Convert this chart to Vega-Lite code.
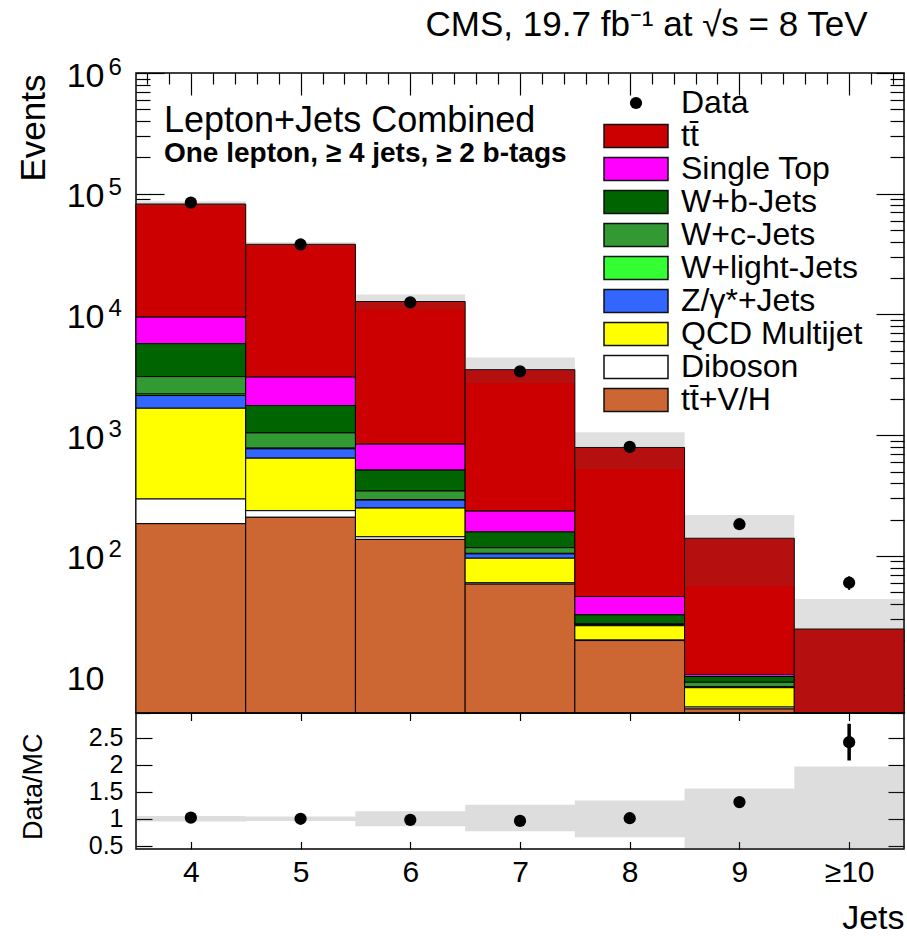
{
  "$schema": "https://vega.github.io/schema/vega-lite/v6.json",
  "background": "white",
  "padding": {"left": 15, "top": 6, "right": 2, "bottom": 2},
  "spacing": 0,
  "bounds": "flush",
  "config": {
    "font": "Liberation Sans",
    "view": {"stroke": "black", "strokeWidth": 1.5},
    "axis": {
      "domain": false, "grid": false, "tickColor": "black", "tickWidth": 1.2,
      "labelColor": "black", "titleColor": "black", "labelFont": "Liberation Sans",
      "titleFont": "Liberation Sans", "titleFontWeight": "normal",
      "labelOverlap": false, "labelBound": false, "labelFlush": false
    }
  },
  "datasets": {
    "mc": [
      {"jets": 4, "process": "tt\u0304", "events": 72700},
      {"jets": 4, "process": "Single Top", "events": 3770},
      {"jets": 4, "process": "W+b-Jets", "events": 2674},
      {"jets": 4, "process": "W+c-Jets", "events": 866},
      {"jets": 4, "process": "W+light-Jets", "events": 60},
      {"jets": 4, "process": "Z/γ*+Jets", "events": 458},
      {"jets": 4, "process": "QCD Multijet", "events": 1376},
      {"jets": 4, "process": "Diboson", "events": 111},
      {"jets": 4, "process": "tt\u0304+V/H", "events": 185},
      {"jets": 5, "process": "tt\u0304", "events": 35070},
      {"jets": 5, "process": "Single Top", "events": 1270},
      {"jets": 5, "process": "W+b-Jets", "events": 715},
      {"jets": 5, "process": "W+c-Jets", "events": 264},
      {"jets": 5, "process": "W+light-Jets", "events": 10},
      {"jets": 5, "process": "Z/γ*+Jets", "events": 126},
      {"jets": 5, "process": "QCD Multijet", "events": 408},
      {"jets": 5, "process": "Diboson", "events": 28},
      {"jets": 5, "process": "tt\u0304+V/H", "events": 209},
      {"jets": 6, "process": "tt\u0304", "events": 11957},
      {"jets": 6, "process": "Single Top", "events": 329},
      {"jets": 6, "process": "W+b-Jets", "events": 169},
      {"jets": 6, "process": "W+c-Jets", "events": 52},
      {"jets": 6, "process": "W+light-Jets", "events": 3},
      {"jets": 6, "process": "Z/γ*+Jets", "events": 41},
      {"jets": 6, "process": "QCD Multijet", "events": 105},
      {"jets": 6, "process": "Diboson", "events": 7},
      {"jets": 6, "process": "tt\u0304+V/H", "events": 137},
      {"jets": 7, "process": "tt\u0304", "events": 3255},
      {"jets": 7, "process": "Single Top", "events": 77},
      {"jets": 7, "process": "W+b-Jets", "events": 41},
      {"jets": 7, "process": "W+c-Jets", "events": 12},
      {"jets": 7, "process": "W+light-Jets", "events": 1},
      {"jets": 7, "process": "Z/γ*+Jets", "events": 8.3},
      {"jets": 7, "process": "QCD Multijet", "events": 35.9},
      {"jets": 7, "process": "Diboson", "events": 1.4},
      {"jets": 7, "process": "tt\u0304+V/H", "events": 58.4},
      {"jets": 8, "process": "tt\u0304", "events": 745},
      {"jets": 8, "process": "Single Top", "events": 13.6},
      {"jets": 8, "process": "W+b-Jets", "events": 5.1},
      {"jets": 8, "process": "W+c-Jets", "events": 0.5},
      {"jets": 8, "process": "W+light-Jets", "events": 0.1},
      {"jets": 8, "process": "Z/γ*+Jets", "events": 0.4},
      {"jets": 8, "process": "QCD Multijet", "events": 6.3},
      {"jets": 8, "process": "Diboson", "events": 0.2},
      {"jets": 8, "process": "tt\u0304+V/H", "events": 19.9},
      {"jets": 9, "process": "tt\u0304", "events": 129.6},
      {"jets": 9, "process": "Single Top", "events": 0.4},
      {"jets": 9, "process": "W+b-Jets", "events": 1.03},
      {"jets": 9, "process": "W+c-Jets", "events": 0.77},
      {"jets": 9, "process": "W+light-Jets", "events": 0.02},
      {"jets": 9, "process": "Z/γ*+Jets", "events": 0.1},
      {"jets": 9, "process": "QCD Multijet", "events": 2.5},
      {"jets": 9, "process": "Diboson", "events": 0.2},
      {"jets": 9, "process": "tt\u0304+V/H", "events": 5.4},
      {"jets": 10, "process": "tt\u0304", "events": 21.25},
      {"jets": 10, "process": "Single Top", "events": 0.3},
      {"jets": 10, "process": "W+b-Jets", "events": 0.3},
      {"jets": 10, "process": "W+c-Jets", "events": 0.2},
      {"jets": 10, "process": "W+light-Jets", "events": 0.01},
      {"jets": 10, "process": "Z/γ*+Jets", "events": 0.05},
      {"jets": 10, "process": "QCD Multijet", "events": 0.6},
      {"jets": 10, "process": "Diboson", "events": 0.1},
      {"jets": 10, "process": "tt\u0304+V/H", "events": 2.0}
    ],
    "bins": [
      {"jets": 4, "data": 84300, "dataLo": 84010, "dataHi": 84590, "mcLo": 78100, "mcHi": 86800, "ratio": 1.02, "ratioLo": 1.01, "ratioHi": 1.03, "bandLo": 0.95, "bandHi": 1.05},
      {"jets": 5, "data": 38000, "dataLo": 37805, "dataHi": 38195, "mcLo": 36600, "mcHi": 39600, "ratio": 1.0, "ratioLo": 0.99, "ratioHi": 1.01, "bandLo": 0.96, "bandHi": 1.04},
      {"jets": 6, "data": 12600, "dataLo": 12488, "dataHi": 12712, "mcLo": 11000, "mcHi": 14600, "ratio": 0.98, "ratioLo": 0.97, "ratioHi": 0.99, "bandLo": 0.86, "bandHi": 1.14},
      {"jets": 7, "data": 3380, "dataLo": 3322, "dataHi": 3438, "mcLo": 2690, "mcHi": 4400, "ratio": 0.96, "ratioLo": 0.94, "ratioHi": 0.98, "bandLo": 0.77, "bandHi": 1.26},
      {"jets": 8, "data": 800, "dataLo": 772, "dataHi": 828, "mcLo": 522, "mcHi": 1060, "ratio": 1.01, "ratioLo": 0.97, "ratioHi": 1.05, "bandLo": 0.66, "bandHi": 1.34},
      {"jets": 9, "data": 183, "dataLo": 169.5, "dataHi": 196.5, "mcLo": 56, "mcHi": 218, "ratio": 1.31, "ratioLo": 1.22, "ratioHi": 1.4, "bandLo": 0.4, "bandHi": 1.56},
      {"jets": 10, "data": 60, "dataLo": 52.3, "dataHi": 67.7, "mcLo": 0.7, "mcHi": 44, "ratio": 2.42, "ratioLo": 2.08, "ratioHi": 2.76, "bandLo": 0.03, "bandHi": 1.97}
    ],
    "notes": [
      {"line": "Lepton+Jets Combined", "kind": "heading", "jets": 3.755, "events": 325000},
      {"line": "One lepton, ≥ 4 jets, ≥ 2 b-tags", "kind": "selection", "jets": 3.755, "events": 183000}
    ]
  },
  "vconcat": [
    {
      "width": 768,
      "height": 640,
      "title": {
        "text": "CMS, 19.7 fb⁻¹ at √s = 8 TeV",
        "anchor": "end", "fontSize": 35, "fontWeight": "normal", "font": "Liberation Sans",
        "color": "black", "baseline": "alphabetic", "offset": -15.5, "dx": -37
      },
      "resolve": {"axis": {"x": "independent", "y": "independent"}},
      "layer": [
        {
          "data": {"name": "mc"},
          "transform": [
            {"calculate": "indexof(['tt\u0304','Single Top','W+b-Jets','W+c-Jets','W+light-Jets','Z/γ*+Jets','QCD Multijet','Diboson','tt\u0304+V/H'], datum.process)", "as": "rank"},
            {"stack": "events", "groupby": ["jets"], "sort": [{"field": "rank", "order": "descending"}], "as": ["lo", "hi"]},
            {"calculate": "max(datum.lo, 1)", "as": "base"},
            {"calculate": "datum.jets - 0.5", "as": "left"},
            {"calculate": "datum.jets + 0.5", "as": "right"}
          ],
          "mark": {"type": "rect", "stroke": "black", "strokeWidth": 1, "opacity": 1},
          "encoding": {
            "x": {
              "field": "left", "type": "quantitative",
              "scale": {"domain": [3.5, 10.5], "nice": false, "zero": false},
              "axis": {
                "orient": "bottom", "title": null, "labels": false, "minExtent": 0, "maxExtent": 0,
                "values": [3.6,3.8,4,4.2,4.4,4.6,4.8,5,5.2,5.4,5.6,5.8,6,6.2,6.4,6.6,6.8,7,7.2,7.4,7.6,7.8,8,8.2,8.4,8.6,8.8,9,9.2,9.4,9.6,9.8,10,10.2,10.4],
                "tickSize": {"condition": {"test": "abs(datum.value - round(datum.value)) < 0.01", "value": -22}, "value": -11}
              }
            },
            "x2": {"field": "right"},
            "y": {
              "field": "hi", "type": "quantitative",
              "scale": {"type": "log", "domain": [5, 1000000], "clamp": true, "nice": false},
              "axis": {
                "orient": "left",
                "values": [5,6,7,8,9,10,20,30,40,50,60,70,80,90,100,200,300,400,500,600,700,800,900,1000,2000,3000,4000,5000,6000,7000,8000,9000,10000,20000,30000,40000,50000,60000,70000,80000,90000,100000,200000,300000,400000,500000,600000,700000,800000,900000,1000000],
                "labelExpr": "abs(log(datum.value)/LN10 - round(log(datum.value)/LN10)) < 0.001 ? '10' : ''",
                "tickSize": {"condition": {"test": "abs(log(datum.value)/LN10 - round(log(datum.value)/LN10)) < 0.001", "value": -28}, "value": -14},
                "labelFontSize": {"condition": {"test": "abs(log(datum.value)/LN10 - round(log(datum.value)/LN10)) < 0.001", "value": 34}, "value": 0},
                "labelPadding": 60, "labelBaseline": "middle", "labelOffset": 3,
                "title": "Events", "titleFontSize": 35, "titleAngle": 270, "titleAlign": "right",
                "titleBaseline": "alphabetic", "titleX": -92, "titleY": 1
              }
            },
            "y2": {"field": "base"},
            "color": {
              "field": "process", "type": "nominal",
              "scale": {
                "domain": ["Data", "tt\u0304", "Single Top", "W+b-Jets", "W+c-Jets", "W+light-Jets", "Z/γ*+Jets", "QCD Multijet", "Diboson", "tt\u0304+V/H"],
                "range": ["#000000", "#cc0000", "#ff00ff", "#006400", "#339933", "#33ff33", "#3366ff", "#ffff00", "#ffffff", "#cc6633"]
              },
              "legend": {
                "title": null, "orient": "none", "legendX": 484, "legendY": 14, "padding": 0,
                "labelFontSize": 32, "labelFont": "Liberation Sans", "labelColor": "black",
                "labelOffset": 29, "rowPadding": 1, "labelLimit": 400,
                "symbolSize": 4096, "symbolType": "M-1,-0.36H1V0.36H-1Z",
                "symbolStrokeColor": "#111111", "symbolStrokeWidth": 1.5, "symbolOpacity": 1,
                "encode": {
                  "symbols": {
                    "update": {
                      "shape": {"signal": "datum.value === 'Data' ? 'circle' : 'M-1,-0.36H1V0.36H-1Z'"},
                      "size": {"signal": "datum.value === 'Data' ? 150 : 4096"},
                      "strokeWidth": {"signal": "datum.value === 'Data' ? 0 : 1.5"}
                    }
                  }
                }
              }
            }
          }
        },
        {
          "data": {"name": "bins"},
          "transform": [
            {"calculate": "datum.jets - 0.5", "as": "left"},
            {"calculate": "datum.jets + 0.5", "as": "right"}
          ],
          "mark": {"type": "rect", "fill": "#555555", "fillOpacity": 0.18},
          "encoding": {
            "x": {
              "field": "left", "type": "quantitative",
              "scale": {"domain": [3.5, 10.5], "nice": false, "zero": false},
              "axis": {
                "orient": "top", "title": null, "labels": false, "minExtent": 0, "maxExtent": 0,
                "values": [3.6,3.8,4,4.2,4.4,4.6,4.8,5,5.2,5.4,5.6,5.8,6,6.2,6.4,6.6,6.8,7,7.2,7.4,7.6,7.8,8,8.2,8.4,8.6,8.8,9,9.2,9.4,9.6,9.8,10,10.2,10.4],
                "tickSize": {"condition": {"test": "abs(datum.value - round(datum.value)) < 0.01", "value": -22}, "value": -11}
              }
            },
            "x2": {"field": "right"},
            "y": {
              "field": "mcHi", "type": "quantitative",
              "scale": {"type": "log", "domain": [5, 1000000], "clamp": true, "nice": false},
              "axis": {
                "orient": "right", "title": null, "labels": false, "minExtent": 0, "maxExtent": 0,
                "values": [5,6,7,8,9,10,20,30,40,50,60,70,80,90,100,200,300,400,500,600,700,800,900,1000,2000,3000,4000,5000,6000,7000,8000,9000,10000,20000,30000,40000,50000,60000,70000,80000,90000,100000,200000,300000,400000,500000,600000,700000,800000,900000,1000000],
                "tickSize": {"condition": {"test": "abs(log(datum.value)/LN10 - round(log(datum.value)/LN10)) < 0.001", "value": -28}, "value": -14}
              }
            },
            "y2": {"field": "mcLo"}
          }
        },
        {
          "data": {"name": "bins"},
          "mark": {"type": "rule", "color": "black", "strokeWidth": 2},
          "encoding": {
            "x": {"field": "jets", "type": "quantitative", "scale": {"domain": [3.5, 10.5], "nice": false, "zero": false}, "axis": null},
            "y": {"field": "dataLo", "type": "quantitative", "scale": {"type": "log", "domain": [5, 1000000], "clamp": true, "nice": false}, "axis": null},
            "y2": {"field": "dataHi"}
          }
        },
        {
          "data": {"name": "bins"},
          "mark": {"type": "point", "filled": true, "size": 150, "color": "black", "opacity": 1},
          "encoding": {
            "x": {"field": "jets", "type": "quantitative", "scale": {"domain": [3.5, 10.5], "nice": false, "zero": false}, "axis": null},
            "y": {
              "field": "data", "type": "quantitative",
              "scale": {"type": "log", "domain": [5, 1000000], "clamp": true, "nice": false},
              "axis": {
                "orient": "left", "title": null, "ticks": false,
                "values": [100, 1000, 10000, 100000, 1000000],
                "labelExpr": "'' + round(log(datum.value)/LN10)",
                "labelFontSize": 24, "labelAlign": "left", "labelBaseline": "middle",
                "labelPadding": 28, "labelOffset": -6
              }
            }
          }
        },
        {
          "data": {"name": "notes"},
          "transform": [{"filter": "datum.kind === 'heading'"}],
          "mark": {"type": "text", "align": "left", "baseline": "alphabetic", "color": "black", "font": "Liberation Sans", "fontSize": 36},
          "encoding": {
            "x": {"field": "jets", "type": "quantitative", "scale": {"domain": [3.5, 10.5], "nice": false, "zero": false}, "axis": null},
            "y": {"field": "events", "type": "quantitative", "scale": {"type": "log", "domain": [5, 1000000], "clamp": true, "nice": false}, "axis": null},
            "text": {"field": "line"}
          }
        },
        {
          "data": {"name": "notes"},
          "transform": [{"filter": "datum.kind === 'selection'"}],
          "mark": {"type": "text", "align": "left", "baseline": "alphabetic", "color": "black", "font": "Liberation Sans", "fontSize": 28, "fontWeight": "bold"},
          "encoding": {
            "x": {"field": "jets", "type": "quantitative", "scale": {"domain": [3.5, 10.5], "nice": false, "zero": false}, "axis": null},
            "y": {"field": "events", "type": "quantitative", "scale": {"type": "log", "domain": [5, 1000000], "clamp": true, "nice": false}, "axis": null},
            "text": {"field": "line"}
          }
        }
      ]
    },
    {
      "width": 768,
      "height": 136,
      "resolve": {"axis": {"x": "independent", "y": "independent"}},
      "layer": [
        {
          "data": {"name": "bins"},
          "transform": [
            {"calculate": "datum.jets - 0.5", "as": "left"},
            {"calculate": "datum.jets + 0.5", "as": "right"}
          ],
          "mark": {"type": "rect", "fill": "#555555", "fillOpacity": 0.2},
          "encoding": {
            "x": {
              "field": "left", "type": "quantitative",
              "scale": {"domain": [3.5, 10.5], "nice": false, "zero": false},
              "axis": {
                "orient": "bottom", "values": [4, 5, 6, 7, 8, 9, 10],
                "labelExpr": "datum.value == 10 ? '≥10' : datum.label",
                "tickSize": -7.5, "labelFontSize": 30, "labelPadding": 16, "labelBaseline": "top",
                "title": "Jets", "titleFontSize": 34, "titleAlign": "right", "titleAngle": 0,
                "titleBaseline": "alphabetic", "titleX": 768, "titleY": 79.5
              }
            },
            "x2": {"field": "right"},
            "y": {
              "field": "bandHi", "type": "quantitative",
              "scale": {"domain": [0.44, 2.96], "clamp": true, "nice": false, "zero": false},
              "axis": {
                "orient": "left", "values": [0.5, 1, 1.5, 2, 2.5], "format": ".1~f",
                "tickSize": -16, "labelFontSize": 25, "labelPadding": 29, "labelBaseline": "middle",
                "title": "Data/MC", "titleFontSize": 27, "titleAngle": 270, "titleAlign": "right",
                "titleBaseline": "alphabetic", "titleX": -95, "titleY": 20
              }
            },
            "y2": {"field": "bandLo"}
          }
        },
        {
          "mark": {"type": "rule", "color": "black", "strokeWidth": 1.5},
          "encoding": {
            "x": {
              "datum": 3.5, "type": "quantitative",
              "scale": {"domain": [3.5, 10.5], "nice": false, "zero": false},
              "axis": {"orient": "top", "values": [4, 5, 6, 7, 8, 9, 10], "labels": false, "title": null, "tickSize": -7.5, "minExtent": 0, "maxExtent": 0}
            },
            "x2": {"datum": 10.5},
            "y": {
              "datum": 1, "type": "quantitative",
              "scale": {"domain": [0.44, 2.96], "clamp": true, "nice": false, "zero": false},
              "axis": {"orient": "right", "values": [0.5, 1, 1.5, 2, 2.5], "labels": false, "title": null, "tickSize": -16, "minExtent": 0, "maxExtent": 0}
            }
          }
        },
        {
          "data": {"name": "bins"},
          "mark": {"type": "rule", "color": "black", "strokeWidth": 3.5},
          "encoding": {
            "x": {"field": "jets", "type": "quantitative", "scale": {"domain": [3.5, 10.5], "nice": false, "zero": false}, "axis": null},
            "y": {"field": "ratioLo", "type": "quantitative", "scale": {"domain": [0.44, 2.96], "clamp": true, "nice": false, "zero": false}, "axis": null},
            "y2": {"field": "ratioHi"}
          }
        },
        {
          "data": {"name": "bins"},
          "mark": {"type": "point", "filled": true, "size": 150, "color": "black", "opacity": 1},
          "encoding": {
            "x": {"field": "jets", "type": "quantitative", "scale": {"domain": [3.5, 10.5], "nice": false, "zero": false}, "axis": null},
            "y": {"field": "ratio", "type": "quantitative", "scale": {"domain": [0.44, 2.96], "clamp": true, "nice": false, "zero": false}, "axis": null}
          }
        }
      ]
    }
  ]
}
